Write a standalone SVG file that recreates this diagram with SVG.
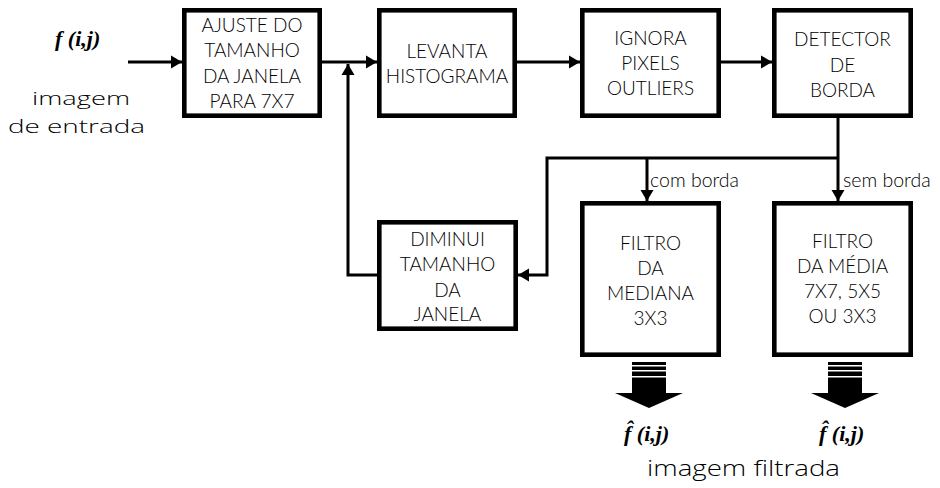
<svg xmlns="http://www.w3.org/2000/svg" width="940" height="488" viewBox="0 0 940 488">
<style>
.box{fill:#fff;stroke:#000;stroke-width:4.6}
.t{font-family:Lato,"Liberation Sans",Arial,sans-serif;font-weight:300;font-size:19px;fill:#000;text-anchor:middle}
.lbl{font-family:Lato,"Liberation Sans",Arial,sans-serif;font-weight:300;font-size:19.5px;fill:#000}
.hand{font-family:"Open Sans","Noto Sans",sans-serif;font-weight:300;font-size:22px;fill:#000}
.hs{font-size:19px}
.fn{font-family:"Liberation Serif","Times New Roman",serif;font-style:italic;font-weight:bold;font-size:22px;fill:#000}
.ln{fill:none;stroke:#000;stroke-width:3}
</style>
<defs>
<marker id="ah" markerUnits="userSpaceOnUse" markerWidth="12" markerHeight="14" refX="11" refY="7" orient="auto">
<path d="M0,0.5 L11,7 L0,13.5 Z" fill="#000"/>
</marker>
<g id="bigarrow">
<rect x="-17" y="0" width="34" height="31" fill="#000"/>
<rect x="-17" y="3" width="34" height="1.5" fill="#fff"/>
<rect x="-17" y="8" width="34" height="1.5" fill="#fff"/>
<rect x="-17" y="14" width="34" height="1.5" fill="#fff"/>
<path d="M-34,31 L34,31 L0,46 Z" fill="#000"/>
</g>
</defs>

<g id="connectors">
<line class="ln" x1="128" y1="62" x2="182" y2="62" marker-end="url(#ah)"/>
<line class="ln" x1="322" y1="62" x2="377" y2="62" marker-end="url(#ah)"/>
<line class="ln" x1="517" y1="62" x2="580" y2="62" marker-end="url(#ah)"/>
<line class="ln" x1="721" y1="62" x2="772" y2="62" marker-end="url(#ah)"/>
<line class="ln" x1="838" y1="118" x2="838" y2="201" marker-end="url(#ah)"/>
<polyline class="ln" points="838,158 547,158 547,275 518,275" marker-end="url(#ah)"/>
<line class="ln" x1="647" y1="158" x2="647" y2="201" marker-end="url(#ah)"/>
<polyline class="ln" points="377,275 348,275 348,64" marker-end="url(#ah)"/>
<use href="#bigarrow" x="649" y="362"/>
<use href="#bigarrow" x="845" y="362"/>
</g>

<g id="labels">
<text class="fn" x="55" y="46">f (i,j)</text>
<text class="hand hs" x="32" y="105" textLength="98" lengthAdjust="spacingAndGlyphs">imagem</text>
<text class="hand hs" x="8" y="133" textLength="137" lengthAdjust="spacingAndGlyphs">de entrada</text>
<text class="lbl" x="650" y="187">com borda</text>
<text class="lbl" x="843" y="187">sem borda</text>
<text class="fn" x="624" y="441">f̂ (i,j)</text>
<text class="fn" x="819" y="441">f̂ (i,j)</text>
<text class="hand" x="647" y="476" textLength="193" lengthAdjust="spacingAndGlyphs">imagem filtrada</text>
</g>

<g id="ajuste">
<rect class="box" x="184.3" y="10.3" width="135.4" height="105.4"/>
<text class="t" x="252" y="32">AJUSTE DO</text>
<text class="t" x="252" y="57">TAMANHO</text>
<text class="t" x="252" y="83">DA JANELA</text>
<text class="t" x="252" y="108">PARA 7X7</text>
</g>
<g id="levanta">
<rect class="box" x="379.3" y="10.3" width="135.4" height="105.4"/>
<text class="t" x="447" y="58">LEVANTA</text>
<text class="t" x="447" y="83">HISTOGRAMA</text>
</g>
<g id="ignora">
<rect class="box" x="582.3" y="10.3" width="136.4" height="105.4"/>
<text class="t" x="650.5" y="45">IGNORA</text>
<text class="t" x="650.5" y="70">PIXELS</text>
<text class="t" x="650.5" y="95">OUTLIERS</text>
</g>
<g id="detector">
<rect class="box" x="774.3" y="10.3" width="136.4" height="105.4"/>
<text class="t" x="842.5" y="46">DETECTOR</text>
<text class="t" x="842.5" y="72">DE</text>
<text class="t" x="842.5" y="97">BORDA</text>
</g>
<g id="diminui">
<rect class="box" x="379.3" y="222.3" width="136.4" height="106.4"/>
<text class="t" x="447.5" y="246">DIMINUI</text>
<text class="t" x="447.5" y="271">TAMANHO</text>
<text class="t" x="447.5" y="297">DA</text>
<text class="t" x="447.5" y="321">JANELA</text>
</g>
<g id="mediana">
<rect class="box" x="582.3" y="203.3" width="136.4" height="151.4"/>
<text class="t" x="650.5" y="250">FILTRO</text>
<text class="t" x="650.5" y="275">DA</text>
<text class="t" x="650.5" y="300">MEDIANA</text>
<text class="t" x="650.5" y="325">3X3</text>
</g>
<g id="media">
<rect class="box" x="774.3" y="203.3" width="136.4" height="151.4"/>
<text class="t" x="842.5" y="248">FILTRO</text>
<text class="t" x="842.5" y="273">DA MÉDIA</text>
<text class="t" x="842.5" y="298">7X7, 5X5</text>
<text class="t" x="842.5" y="323">OU 3X3</text>
</g>
</svg>
